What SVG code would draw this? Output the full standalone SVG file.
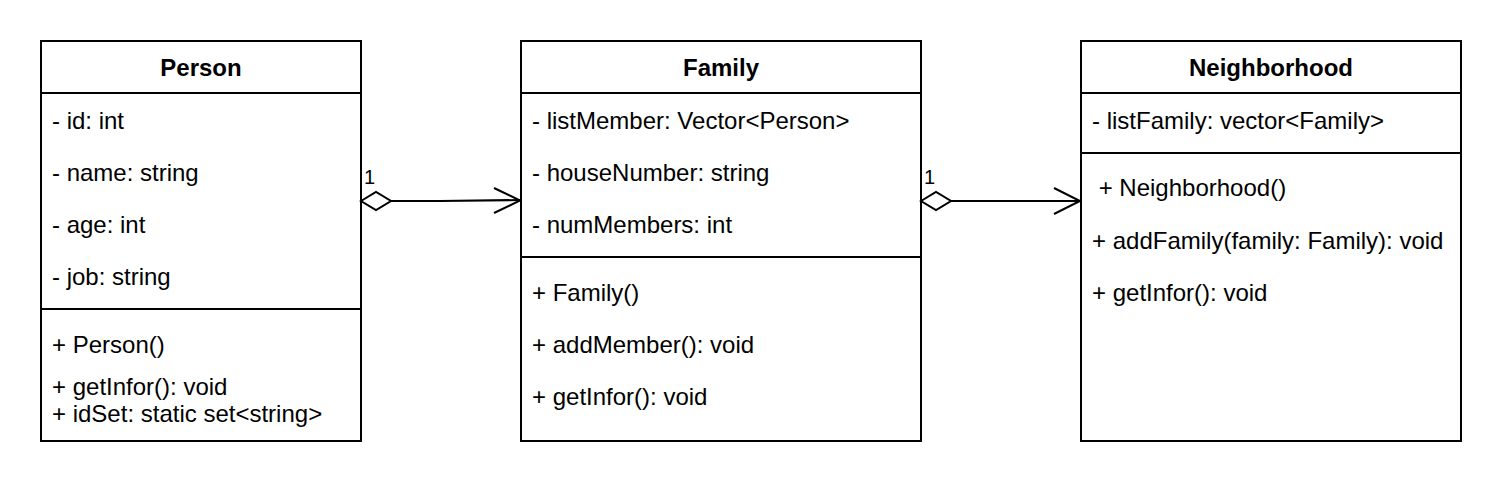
<svg xmlns="http://www.w3.org/2000/svg" width="1504" height="488" viewBox="0 0 1504 488">
<defs>
<style>
.box{fill:#ffffff;stroke:#000000;stroke-width:2}
.div{stroke:#000000;stroke-width:2;fill:none}
.t{font-family:"Liberation Sans",Arial,Helvetica,sans-serif;font-size:24px;fill:#000000}
.h{font-family:"Liberation Sans",Arial,Helvetica,sans-serif;font-size:24px;font-weight:bold;fill:#000000;text-anchor:middle}
.lbl{font-family:"Liberation Sans",Arial,Helvetica,sans-serif;font-size:20px;fill:#000000}
.edge{stroke:#000000;stroke-width:2;fill:none}
.dia{stroke:#000000;stroke-width:2;fill:#ffffff}
</style>
</defs>
<rect width="1504" height="488" fill="#ffffff"/>
<g id="person">
<rect class="box" x="41" y="41" width="320" height="400"/>
<line class="div" x1="41" y1="93" x2="361" y2="93"/>
<line class="div" x1="41" y1="309" x2="361" y2="309"/>
<text class="h" x="201" y="76">Person</text>
<text class="t" x="52" y="129">- id: int</text>
<text class="t" x="52" y="181">- name: string</text>
<text class="t" x="52" y="233">- age: int</text>
<text class="t" x="52" y="285">- job: string</text>
<text class="t" x="52" y="353">+ Person()</text>
<text class="t" x="52" y="395">+ getInfor(): void</text>
<text class="t" x="52" y="422">+ idSet: static set&lt;string&gt;</text>
</g>
<g id="family">
<rect class="box" x="521" y="41" width="400" height="400"/>
<line class="div" x1="521" y1="93" x2="921" y2="93"/>
<line class="div" x1="521" y1="257" x2="921" y2="257"/>
<text class="h" x="721" y="76">Family</text>
<text class="t" x="532" y="129">- listMember: Vector&lt;Person&gt;</text>
<text class="t" x="532" y="181">- houseNumber: string</text>
<text class="t" x="532" y="233">- numMembers: int</text>
<text class="t" x="532" y="301">+ Family()</text>
<text class="t" x="532" y="353">+ addMember(): void</text>
<text class="t" x="532" y="405">+ getInfor(): void</text>
</g>
<g id="neighborhood">
<rect class="box" x="1081" y="41" width="380" height="400"/>
<line class="div" x1="1081" y1="93" x2="1461" y2="93"/>
<line class="div" x1="1081" y1="153" x2="1461" y2="153"/>
<text class="h" x="1271" y="76">Neighborhood</text>
<text class="t" x="1092" y="129">- listFamily: vector&lt;Family&gt;</text>
<text class="t" x="1092" y="196" xml:space="preserve"> + Neighborhood()</text>
<text class="t" x="1092" y="249">+ addFamily(family: Family): void</text>
<text class="t" x="1092" y="301">+ getInfor(): void</text>
</g>
<g id="connectors">
<path class="edge" d="M391,201 L440,201 L520,200"/>
<path class="dia" d="M361,201 L376,192 L391,201 L376,210 Z"/>
<path class="edge" d="M494,188 L520,200.5 L494,213"/>
<text class="lbl" x="364" y="184">1</text>
<path class="edge" d="M951,201 L1080,201"/>
<path class="dia" d="M921,201 L936,192 L951,201 L936,210 Z"/>
<path class="edge" d="M1054,188 L1080,201 L1054,214"/>
<text class="lbl" x="924" y="184">1</text>
</g>
</svg>
